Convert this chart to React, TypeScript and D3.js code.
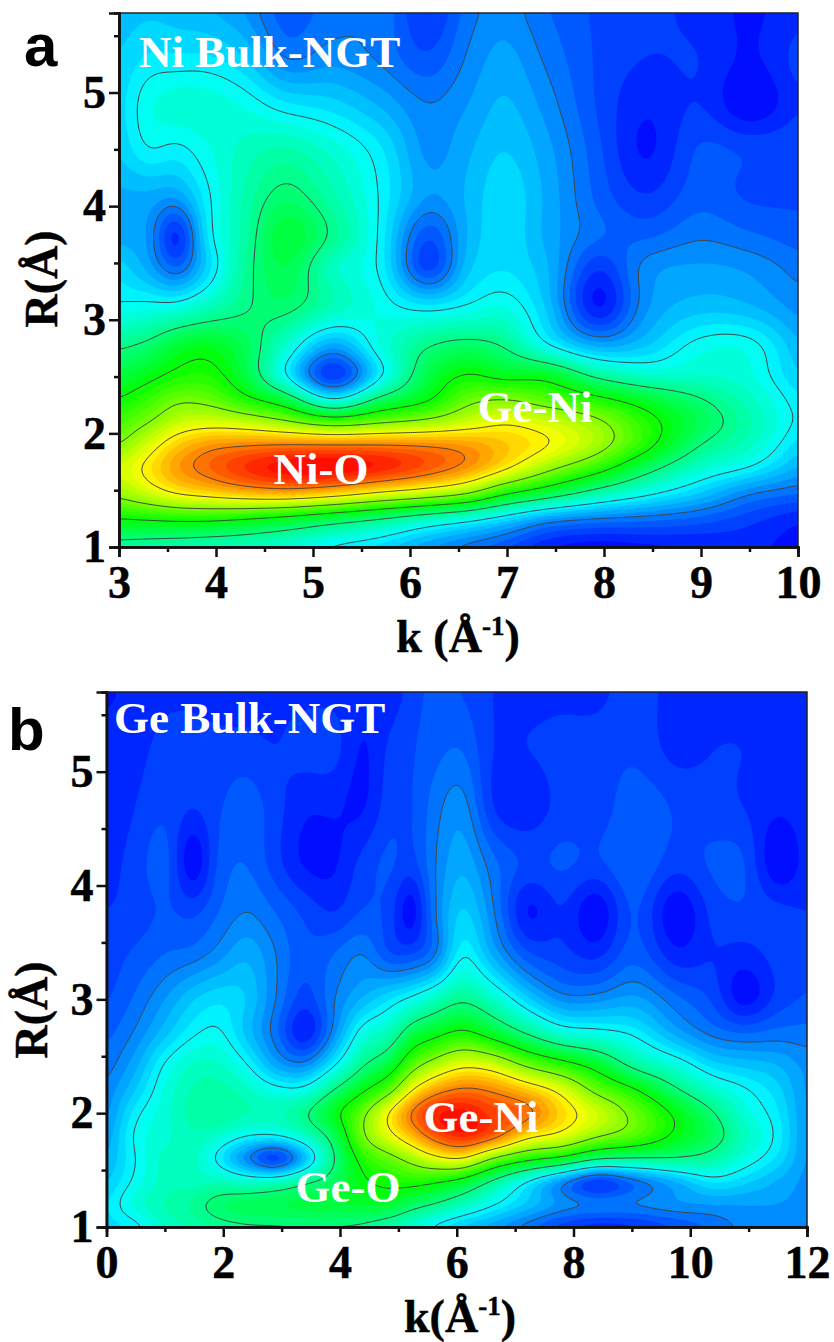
import React, { useEffect, useRef } from "react";
import * as d3 from "d3";

const WIDTH = 834;
const HEIGHT = 1342;
const SERIF = "'Liberation Serif', 'Times New Roman', serif";
const SANS = "'Liberation Sans', Arial, sans-serif";

// contour levels and colour stops, z is read as 0-100 off the picture
const levels = [12.5, 25, 37.5, 50, 62.5, 75, 87.5];
const colorStops = [0, 25, 50, 75, 100];
const colorNames = ["#0000ff", "#00ffff", "#00ff00", "#ffff00", "#ff0000"];

// panel a: Ni Bulk-NGT
const kA = [3, 3.3, 3.6, 3.9, 4.3, 4.7, 5.2, 5.7, 6.2, 6.6, 6.95, 7.4, 7.95, 8.4, 9, 9.5, 10];
const rA = [1, 1.25, 1.5, 1.7, 1.9, 2.1, 2.3, 2.5, 2.75, 3.1, 3.5, 3.7, 4.1, 4.5, 4.9, 5.3, 5.75];
const zA = [
  [33, 32, 31, 30, 29, 27, 23, 20, 14, 10, 7, 2, 0, 1, 2, 3, 1],
  [50, 51, 52, 52, 50, 47, 42, 37, 31, 27, 22, 15, 12, 11, 9, 6, 3],
  [66, 72, 78, 81, 85, 87, 84, 78, 73, 67, 56, 47, 36, 29, 21, 14, 11],
  [70, 77, 85, 90, 96, 100, 101, 98, 92, 86, 78, 66, 54, 42, 30, 25, 17],
  [62, 71, 80, 85, 87, 88, 88, 88, 87, 85, 81, 76, 66, 54, 37.5, 31, 21],
  [56, 62, 69, 71, 69, 64, 57, 61, 65, 70, 74, 71, 64, 54, 42, 33, 24],
  [50, 55, 61, 60, 52, 44, 25, 40, 49, 60, 62.5, 58, 52, 46, 38, 31, 23],
  [44, 48, 52, 53, 44, 26, 4, 24, 44, 51, 48, 48, 36, 31, 30, 28, 20],
  [37, 40, 46, 48, 42, 30, 15, 28, 38, 41, 38, 27, 18, 20, 27, 27, 18],
  [26, 27, 28, 32, 37, 39, 32, 27, 24, 26, 28, 20, 2, 14, 19, 18, 14],
  [21, 16, 8, 20, 35, 43, 31, 24, 5, 19, 22, 18, 6, 13, 15, 14, 11],
  [17, 15, 3, 22, 34, 45, 36, 24, 7, 18, 22, 17, 10, 10, 12.5, 11, 9],
  [17, 17, 16, 24, 33, 39, 33, 24.5, 15, 18, 22, 17, 9, 5, 9, 7, 7],
  [20, 25, 24, 27, 31, 33, 29, 23, 14, 17, 20, 16, 8, 2, 8, 7, 7],
  [21, 27, 29, 29, 27, 23, 21, 17, 12.5, 15, 18, 14, 7, 3, 5, 0, 5],
  [20, 23, 23, 23, 20, 12.5, 14, 12, 8, 13, 16, 12, 7, 5, 5, 2, 6],
  [18, 19, 18, 17, 14, 8, 11, 12, 4, 11, 13.5, 10, 7, 6, 4, 2, 4],
];

// panel b: Ge Bulk-NGT
const kB = [0, 0.5, 1, 1.5, 1.9, 2.4, 2.9, 3.4, 3.9, 4.4, 4.9, 5.2, 5.6, 6.1, 6.6, 7.2, 7.8, 8.4, 9, 9.8, 10.4, 10.9, 11.5, 12];
const rB = [1, 1.2, 1.4, 1.6, 1.8, 2, 2.2, 2.4, 2.7, 3, 3.4, 3.75, 4.2, 4.7, 5.2, 5.75];
const zB = [
  [21, 23, 30, 33, 35, 36, 36, 36.5, 36, 35, 31, 28, 23, 18, 15, 10, 5, 2, 3, 7, 10, 13, 13, 12],
  [22, 29, 33, 36, 40, 42, 43, 44, 45, 46, 45, 41, 37.5, 32, 26, 20, 15, 13.5, 13.5, 15, 15, 15, 15, 14],
  [19, 26, 31, 31, 32, 30, 31, 36.5, 41, 49, 52, 53, 51, 46, 36, 24, 12.5, 3, 9, 17, 23, 21, 17, 14],
  [17, 25, 31, 31, 23.5, 12, 3, 17, 37, 53, 60, 65, 72, 75, 62, 53, 48, 39, 37, 37, 34, 28, 22, 14],
  [15, 26, 29, 32, 30, 25.5, 25.5, 31, 41, 62, 74, 81, 91, 97, 92, 78, 73, 64, 59, 48, 41, 32, 24, 14],
  [13.5, 24, 29, 34, 35, 33, 32, 37, 48, 61, 78, 88, 97, 99, 94, 90, 79, 71, 61, 48, 38, 29, 23, 14],
  [12.8, 20, 28, 33, 34, 31, 27, 27, 38, 49, 61, 74, 84, 89, 87, 81, 73, 60, 52, 38, 30, 26, 21, 14],
  [11, 17, 26, 31, 31, 26, 17, 15, 25.5, 38, 47, 59, 68, 75, 73, 63, 56, 48, 37, 29, 22, 20, 18, 14],
  [9, 13, 19, 24.5, 26, 19, 11, 2, 14, 28, 33, 42, 47, 52, 46, 37, 29, 27, 24.5, 16, 11.5, 10, 11, 11],
  [7, 10.5, 15, 20, 22, 20, 12.5, 6, 12.5, 18, 23, 26, 31, 36.5, 31, 21, 14, 14, 16, 10.5, 7, 1, 6, 8],
  [6, 8, 10, 11, 13.5, 17, 12.5, 8, 10, 12.7, 7, 7, 11, 25, 17, 8, 6, 4, 9, 3, 5, 4, 6, 7],
  [5, 6, 8, 7, 10, 12.8, 10, 7, 5, 8, 6, 0, 11.5, 21, 13.5, 2, 5, 0, 8, 0, 6, 7, 6, 5],
  [4, 6, 9, 0, 8, 10, 6, 2, 2, 6, 8, 6, 12, 17, 11, 7, 8, 7, 10, 6, 8, 8, 0, 4],
  [3, 5, 7, 5, 7, 9, 6, 3, 3, 2, 7, 7, 11, 14, 5, 3, 6, 6, 9, 7, 6, 5, 3, 4],
  [3, 4, 6, 6, 6, 6, 5, 6, 6, 2, 6, 7, 9, 10, 5, 5, 6, 6, 7, 4, 5, 5, 4, 3],
  [2, 3, 4, 4, 3, 3, 4, 4, 4, 4, 3, 6, 8, 7, 5, 4, 4, 4, 6, 4, 4, 4, 3, 4],
];

const yTicks = [1, 2, 3, 4, 5];
const yMinor = [1.5, 2.5, 3.5, 4.5, 5.5];
const xTicksA = [3, 4, 5, 6, 7, 8, 9, 10];
const xMinorA = [3.5, 4.5, 5.5, 6.5, 7.5, 8.5, 9.5];
const xTicksB = [0, 2, 4, 6, 8, 10, 12];
const xMinorB = [1, 3, 5, 7, 9, 11];

// cubic hermite through unevenly spaced knots, only used to draw a smooth surface
function hermite(xs: number[], ys: number[], x: number) {
  const n = xs.length;
  const slope = (i: number) => {
    if (i === 0) return (ys[1] - ys[0]) / (xs[1] - xs[0]);
    if (i === n - 1) return (ys[n - 1] - ys[n - 2]) / (xs[n - 1] - xs[n - 2]);
    const h0 = xs[i] - xs[i - 1];
    const h1 = xs[i + 1] - xs[i];
    return (((ys[i + 1] - ys[i]) / h1) * h0 + ((ys[i] - ys[i - 1]) / h0) * h1) / (h0 + h1);
  };
  const i = Math.max(0, Math.min(n - 2, d3.bisectRight(xs, x) - 1));
  const h = xs[i + 1] - xs[i];
  const t = (x - xs[i]) / h;
  const t2 = t * t;
  const t3 = t2 * t;
  return (
    (2 * t3 - 3 * t2 + 1) * ys[i] +
    (t3 - 2 * t2 + t) * h * slope(i) +
    (-2 * t3 + 3 * t2) * ys[i + 1] +
    (t3 - t2) * h * slope(i + 1)
  );
}

function drawPanel(svg: any, p: any) {
  const x = d3.scaleLinear().domain(p.xDomain).range([p.left, p.right]);
  const y = d3.scaleLinear().domain(p.yDomain).range([p.bottom, p.top]);
  const color = d3.scaleLinear<string>().domain(colorStops).range(colorNames);

  // surface on a fine grid, one cell about 2px, row 0 at the top
  const nx = Math.round((p.right - p.left) / 2) + 1;
  const ny = Math.round((p.bottom - p.top) / 2) + 1;
  const fineK = d3.range(nx).map((i) => x.invert(p.left + (i / (nx - 1)) * (p.right - p.left)));
  const fineR = d3.range(ny).map((j) => y.invert(p.top + (j / (ny - 1)) * (p.bottom - p.top)));
  const rows = p.z.map((row: number[]) => fineK.map((k) => hermite(p.k, row, k)));
  const values = new Float64Array(nx * ny);
  fineK.forEach((_, i) => {
    const col = rows.map((row: number[]) => row[i]);
    fineR.forEach((r, j) => {
      values[j * nx + i] = Math.max(0, hermite(p.r, col, r));
    });
  });
  // take the kinks of the coarse table out of the contour lines
  d3.blur2({ data: values as any, width: nx, height: ny }, 2.5, 2.5);

  const dx = (p.right - p.left) / (nx - 1);
  const dy = (p.bottom - p.top) / (ny - 1);
  const path = d3.geoPath(
    d3.geoTransform({
      point(px: number, py: number) {
        (this as any).stream.point(p.left + (px - 0.5) * dx, p.top + (py - 0.5) * dy);
      },
    })
  );
  const contours = d3.contours().size([nx, ny]);

  const clipId = "clip-" + p.id;
  svg
    .append("clipPath")
    .attr("id", clipId)
    .append("rect")
    .attr("x", p.left)
    .attr("y", p.top)
    .attr("width", p.right - p.left)
    .attr("height", p.bottom - p.top);

  const plot = svg.append("g").attr("clip-path", `url(#${clipId})`);
  const bands = d3.range(0, 100, 2.5);
  plot
    .append("g")
    .selectAll("path")
    .data(contours.thresholds(bands)(values as any))
    .enter()
    .append("path")
    .attr("d", path as any)
    .attr("fill", (d: any) => color(d.value + 1.25));

  plot
    .append("g")
    .selectAll("path")
    .data(contours.thresholds(levels)(values as any))
    .enter()
    .append("path")
    .attr("d", path as any)
    .attr("fill", "none")
    .attr("stroke", "#444")
    .attr("stroke-width", 1);

  // frame
  svg
    .append("rect")
    .attr("x", p.left)
    .attr("y", p.top)
    .attr("width", p.right - p.left)
    .attr("height", p.bottom - p.top)
    .attr("fill", "none")
    .attr("stroke", "#222")
    .attr("stroke-width", 1.5);

  const styleAxis = (g: any) => {
    g.attr("font-family", SERIF).attr("font-size", 46).attr("font-weight", "bold");
    g.select(".domain").attr("stroke-width", 2.5).attr("stroke", "#111");
    g.selectAll(".tick line").attr("stroke-width", 2.5).attr("stroke", "#111");
    g.selectAll(".tick text").attr("fill", "#000").attr("stroke", "#000").attr("stroke-width", 0.5);
  };

  svg
    .append("g")
    .attr("transform", `translate(0,${p.bottom})`)
    .call(d3.axisBottom(x).tickValues(p.xMinor).tickSize(5).tickFormat(() => ""))
    .call(styleAxis);
  svg
    .append("g")
    .attr("transform", `translate(0,${p.bottom})`)
    .call(d3.axisBottom(x).tickValues(p.xTicks).tickSize(10).tickPadding(8).tickFormat(d3.format("d") as any))
    .call(styleAxis);
  svg
    .append("g")
    .attr("transform", `translate(${p.left},0)`)
    .call(d3.axisLeft(y).tickValues(yMinor).tickSize(5).tickFormat(() => ""))
    .call(styleAxis);
  svg
    .append("g")
    .attr("transform", `translate(${p.left},0)`)
    .call(d3.axisLeft(y).tickValues(yTicks).tickSize(10).tickPadding(3).tickFormat(d3.format("d") as any))
    .call(styleAxis);

  const label = (txt: string, tx: number, ty: number, fill: string, anchor = "middle", size = 45) =>
    svg
      .append("text")
      .attr("x", tx)
      .attr("y", ty)
      .attr("fill", fill)
      .attr("text-anchor", anchor)
      .attr("font-family", SERIF)
      .attr("font-weight", "bold")
      .attr("font-size", size)
      .text(txt);

  label(p.title, p.titleX, p.titleY, "#fff", "start");
  p.peaks.forEach((d: any) => label(d.text, d.x, d.y, "#fff", "middle"));

  // axis titles
  const xt = label(p.xLabel, p.xLabelX, p.xLabelY, "#000", "middle", 46).attr("stroke", "#000").attr("stroke-width", 0.5);
  xt.append("tspan").attr("font-size", 27).attr("dy", -17).text("-1");
  xt.append("tspan").attr("dy", 17).text(")");
  svg
    .append("text")
    .attr("transform", `translate(${p.yLabelX},${p.yLabelY}) rotate(-90)`)
    .attr("text-anchor", "middle")
    .attr("font-family", SERIF)
    .attr("font-weight", "bold")
    .attr("font-size", 46)
    .attr("stroke", "#000")
    .attr("stroke-width", 0.5)
    .text("R(Å)");

  svg
    .append("text")
    .attr("x", p.letterX)
    .attr("y", p.letterY)
    .attr("font-family", SANS)
    .attr("font-weight", "bold")
    .attr("font-size", 60)
    .text(p.letter);
}

export default function App() {
  const ref = useRef<SVGSVGElement>(null);

  useEffect(() => {
    const svg = d3.select(ref.current);
    svg.selectAll("*").remove();
    drawPanel(svg, {
      id: "a",
      k: kA,
      r: rA,
      z: zA,
      xDomain: [3, 10],
      yDomain: [1, 5.7],
      left: 119,
      right: 798,
      top: 13,
      bottom: 547,
      xTicks: xTicksA,
      xMinor: xMinorA,
      title: "Ni Bulk-NGT",
      titleX: 139,
      titleY: 67,
      peaks: [
        { text: "Ni-O", x: 321, y: 484 },
        { text: "Ge-Ni", x: 535, y: 422 },
      ],
      xLabel: "k (Å",
      xLabelX: 458,
      xLabelY: 652,
      yLabelX: 57,
      yLabelY: 279,
      letter: "a",
      letterX: 24,
      letterY: 66,
    });
    drawPanel(svg, {
      id: "b",
      k: kB,
      r: rB,
      z: zB,
      xDomain: [0, 12],
      yDomain: [1, 5.7],
      left: 106.5,
      right: 807,
      top: 692,
      bottom: 1227,
      xTicks: xTicksB,
      xMinor: xMinorB,
      title: "Ge Bulk-NGT",
      titleX: 114,
      titleY: 733,
      peaks: [
        { text: "Ge-Ni", x: 481, y: 1132 },
        { text: "Ge-O", x: 348, y: 1202 },
      ],
      xLabel: "k(Å",
      xLabelX: 460,
      xLabelY: 1332,
      yLabelX: 47,
      yLabelY: 1010,
      letter: "b",
      letterX: 8,
      letterY: 750,
    });
  }, []);

  return (
    <svg
      ref={ref}
      width={WIDTH}
      height={HEIGHT}
      style={{ position: "absolute", left: 0, top: 0, display: "block", background: "#fff" }}
    />
  );
}
